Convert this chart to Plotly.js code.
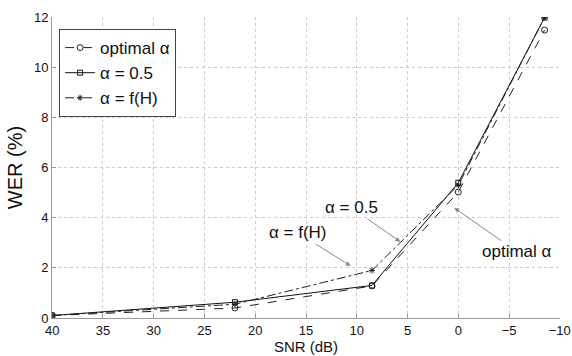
<!DOCTYPE html>
<html><head><meta charset="utf-8">
<script src="https://cdn.plot.ly/plotly-3.0.1.min.js"></script>
<style>html,body{margin:0;padding:0;background:#fff}#c{width:572px;height:356px}</style>
</head><body><div id="c"></div>
<script>
const snr = [40, 22, 8.5, 0, -8.5];
const werOptimal = [0.1, 0.4, 1.28, 5.03, 11.5];
const werHalf = [0.1, 0.63, 1.3, 5.4, 12.0];
const werFH = [0.1, 0.55, 1.9, 5.3, 12.0];
const xTicks = [40, 35, 30, 25, 20, 15, 10, 5, 0, -5, -10];
const yTicks = [0, 2, 4, 6, 8, 10, 12];
const names = ['optimal \u03b1', '\u03b1 = 0.5', '\u03b1 = f(H)'];

const F = 'Liberation Sans, Arial, sans-serif';
const traces = [
  {x: snr, y: werOptimal, name: names[0], mode: 'lines+markers',
   line: {color: '#222', width: 1, dash: 'dash'},
   marker: {symbol: 'circle-open', size: 6, color: '#222', line: {width: 1}}},
  {x: snr, y: werHalf, name: names[1], mode: 'lines+markers',
   line: {color: '#111', width: 1, dash: 'solid'},
   marker: {symbol: 'square-open', size: 5, color: '#111', line: {width: 1}}},
  {x: snr, y: werFH, name: names[2], mode: 'lines+markers',
   line: {color: '#222', width: 1, dash: 'dashdot'},
   marker: {symbol: 'asterisk-open', size: 5, color: '#222', line: {width: 1}}}
];
const ax = {showline: true, linecolor: '#999', linewidth: 1, ticks: 'inside', ticklen: 4,
  tickcolor: '#999', showgrid: true, gridcolor: '#ccc', griddash: 'dot', gridwidth: 1,
  zeroline: false, tickfont: {family: F, size: 13, color: '#111'}, mirror: false,
  ticklabeloverflow: 'allow'};
const layout = {
  width: 572, height: 356, margin: {l: 52, r: 12, t: 17, b: 38},
  paper_bgcolor: '#fff', plot_bgcolor: '#fff', font: {family: F, color: '#111'},
  xaxis: Object.assign({}, ax, {range: [40.02, -10.02], tickvals: xTicks, tickmode: 'array',
    title: {text: 'SNR (dB)', font: {family: F, size: 15}, standoff: 2}}),
  yaxis: Object.assign({}, ax, {range: [0, 12.02], tickvals: yTicks, tickmode: 'array',
    title: {text: 'WER (%)', font: {family: F, size: 20}, standoff: 5}}),
  legend: {x: 0.014, y: 0.96, xanchor: 'left', yanchor: 'top', bgcolor: '#fff',
    bordercolor: '#444', borderwidth: 1, font: {family: F, size: 17}, tracegroupgap: 0,
    itemwidth: 30},
  showlegend: true,
  annotations: [
    {x: 5.7, y: 3.04, ax: 10.5, ay: 4.4, axref: 'x', ayref: 'y', text: names[1],
     showarrow: true, arrowhead: 2, arrowsize: 1, arrowwidth: 1, arrowcolor: '#888',
     font: {family: F, size: 17, color: '#111'}},
    {x: 10.6, y: 2.08, ax: 15.8, ay: 3.4, axref: 'x', ayref: 'y', text: names[2],
     showarrow: true, arrowhead: 2, arrowsize: 1, arrowwidth: 1, arrowcolor: '#888',
     font: {family: F, size: 17, color: '#111'}},
    {x: 0.4, y: 4.4, ax: -5.8, ay: 2.64, axref: 'x', ayref: 'y', text: names[0],
     showarrow: true, arrowhead: 2, arrowsize: 1, arrowwidth: 1, arrowcolor: '#888',
     font: {family: F, size: 17, color: '#111'}}
  ]
};
Plotly.newPlot('c', traces, layout, {displayModeBar: false, staticPlot: true});
</script></body></html>
